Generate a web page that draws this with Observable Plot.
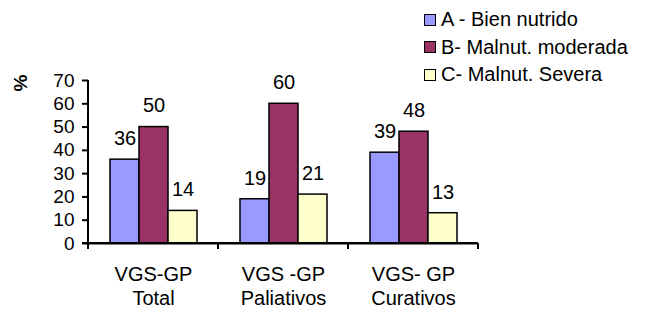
<!DOCTYPE html>
<html>
<head>
<meta charset="utf-8">
<script src="https://cdn.jsdelivr.net/npm/d3@7"></script>
<script src="https://cdn.jsdelivr.net/npm/@observablehq/plot@0.6"></script>
<style>
  html, body { margin: 0; padding: 0; background: white; }
  #wrap { position: relative; width: 646px; height: 309px; font-family: "Liberation Sans", Arial, sans-serif; }
  #legend { position: absolute; left: 424px; top: 6px; font-size: 20px; color: black; }
  .row { display: flex; align-items: center; height: 27.5px; }
  .sw { width: 10px; height: 10px; border: 1.5px solid black; margin-right: 5px; }
  #ylab { position: absolute; left: 13px; top: 72px; font-size: 19px; font-weight: bold; transform: rotate(-90deg); transform-origin: center; }
</style>
</head>
<body>
<div id="wrap"></div>
<script>
const categories = ["VGS-GP\nTotal", "VGS -GP\nPaliativos", "VGS- GP\nCurativos"];
const series = ["A - Bien nutrido", "B- Malnut. moderada", "C- Malnut. Severa"];
const colors = ["#9999FF", "#993366", "#FFFFCC"];
const valuesA = [36, 19, 39];
const valuesB = [50, 60, 48];
const valuesC = [14, 21, 13];
const yTicks = [0, 10, 20, 30, 40, 50, 60, 70];

const seriesValues = [valuesA, valuesB, valuesC];
const data = [];
categories.forEach((c, i) => series.forEach((s, j) => data.push({cat: c, ser: s, value: seriesValues[j][i]})));

const chart = Plot.plot({
  width: 646, height: 309,
  marginLeft: 88, marginRight: 168, marginTop: 80, marginBottom: 66,
  style: {fontFamily: "'Liberation Sans', Arial, sans-serif", fontSize: "18px", color: "black", background: "white"},
  fx: {domain: categories, padding: 0, axis: null, label: null},
  x: {domain: series, paddingInner: 0, paddingOuter: 0.736, axis: null},
  y: {domain: [0, 70], axis: null},
  color: {domain: series, range: colors},
  marks: [
    Plot.barY(data, {fx: "cat", x: "ser", y: "value", fill: "ser", stroke: "black", strokeWidth: 1.5}),
    Plot.text(data, {fx: "cat", x: "ser", y: "value", text: d => String(d.value), dy: -21, fontSize: 20, fill: "black"}),
    Plot.ruleY([0], {stroke: "black", strokeWidth: 2}),
    Plot.axisY({ticks: yTicks, tickSize: 6, tickPadding: 8, label: null, fontSize: 19, strokeWidth: 2, stroke: "black"}),
    Plot.axisFx({anchor: "bottom", tickSize: 0, tickPadding: 20, fontSize: 20, lineHeight: 1.2, label: null})
  ]
});

// axis line and group boundary ticks from the library's scales
const fx = chart.scale("fx");
const y = chart.scale("y");
const bounds = categories.map(c => fx.apply(c));
bounds.push(fx.apply(categories[categories.length - 1]) + fx.bandwidth);
const svg = d3.select(chart);
const g = svg.append("g").attr("stroke", "black").attr("stroke-width", 2);
g.append("line").attr("x1", bounds[0]).attr("x2", bounds[0]).attr("y1", y.apply(70)).attr("y2", y.apply(0) + 6);
g.append("line").attr("x1", bounds[0] - 6).attr("x2", bounds[bounds.length - 1]).attr("y1", y.apply(0)).attr("y2", y.apply(0));
bounds.forEach(b => g.append("line").attr("x1", b).attr("x2", b).attr("y1", y.apply(0)).attr("y2", y.apply(0) + 6));

const wrap = document.getElementById("wrap");
wrap.appendChild(chart);

const legend = document.createElement("div");
legend.id = "legend";
series.forEach((s, i) => {
  const row = document.createElement("div");
  row.className = "row";
  const sw = document.createElement("div");
  sw.className = "sw";
  sw.style.background = colors[i];
  const t = document.createElement("span");
  t.textContent = s;
  row.appendChild(sw); row.appendChild(t);
  legend.appendChild(row);
});
wrap.appendChild(legend);

const ylab = document.createElement("div");
ylab.id = "ylab";
ylab.textContent = "%";
wrap.appendChild(ylab);
</script>
</body>
</html>
